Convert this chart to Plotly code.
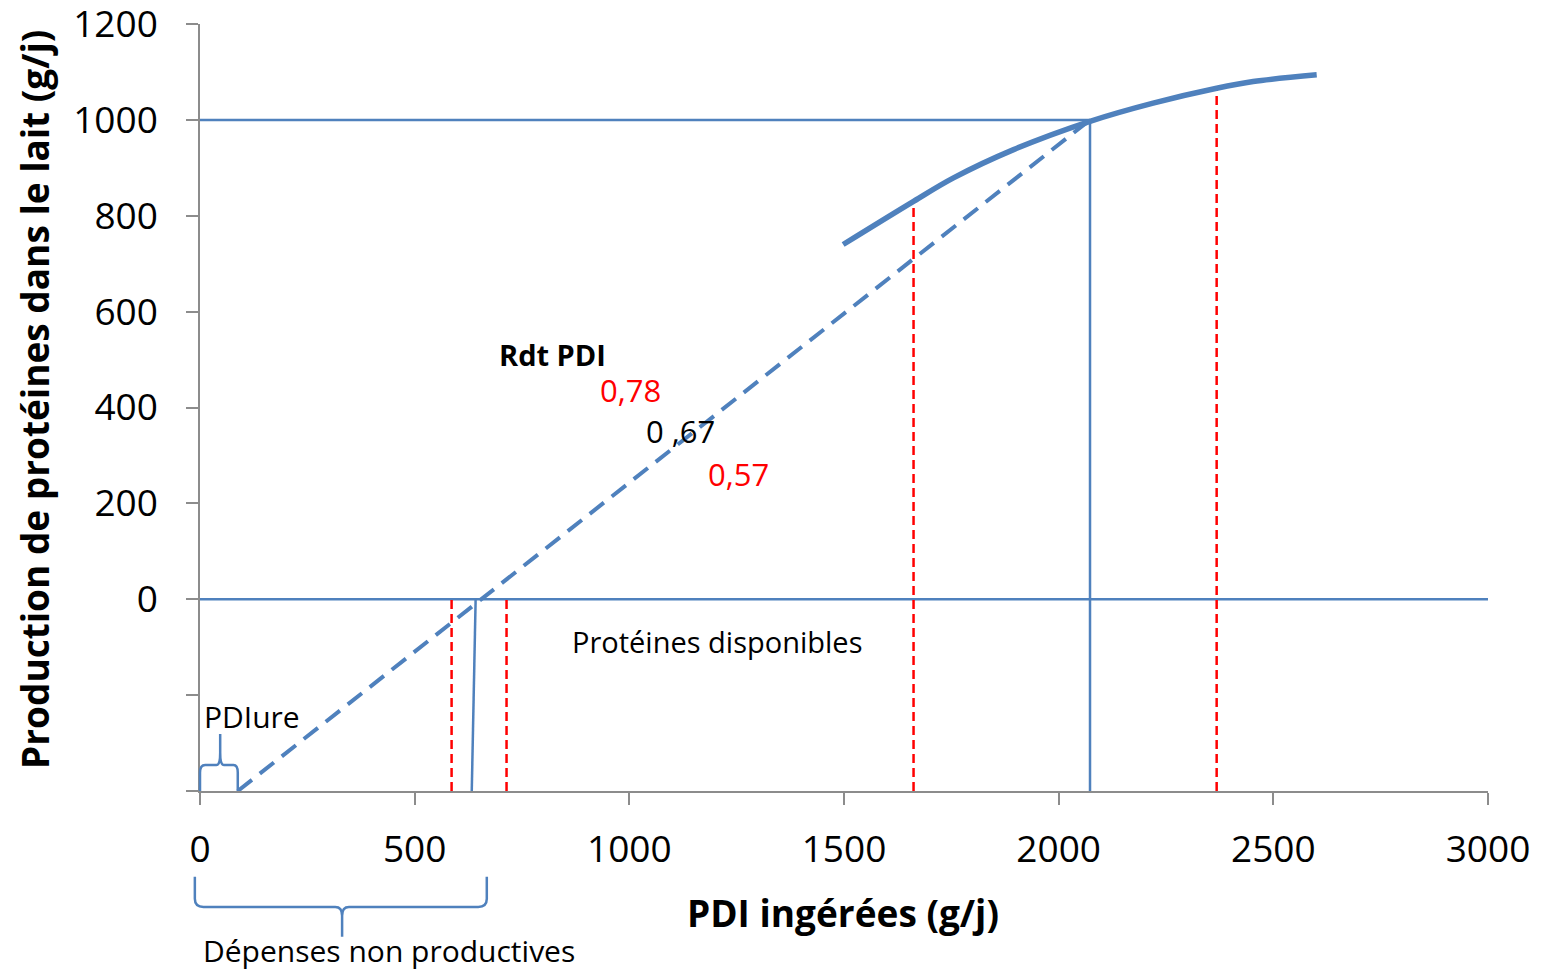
import plotly.graph_objects as go

# ---------------- data ----------------
X_RANGE = [0, 3000]
Y_RANGE = [-400, 1200]
x_tickvals = [0, 500, 1000, 1500, 2000, 2500, 3000]
y_tickvals = [-400, -200, 0, 200, 400, 600, 800, 1000, 1200]
y_ticktext = ["", "", "0", "200", "400", "600", "800", "1000", "1200"]

# response curve (thick)
curve_x = [1498, 1662, 1755, 1895, 2073, 2220, 2368, 2453, 2601]
curve_y = [740, 830, 879, 938, 997, 1035, 1066, 1080, 1094]

# linear response (dashed), from PDIure to the reference point
lin_x = [88, 2073]
lin_y = [-400, 1000]

# reference point
ref_x = 2073
ref_y = 1000

# vertical line at the maintenance need
need_x = [633, 642]
need_y = [-400, 0]

# red dashed verticals
red_x = [586, 714, 1662, 2368]
red_top = [0, 0, 830, 1066]

BLUE = "#4F81BD"
RED = "#FF0000"
FONT = "Open Sans"

fig = go.Figure()

# thin blue reference lines
fig.add_trace(go.Scatter(x=[0, ref_x], y=[ref_y, ref_y], mode="lines",
                         line=dict(color=BLUE, width=2.5), hoverinfo="skip"))
fig.add_trace(go.Scatter(x=[0, X_RANGE[1]], y=[0, 0], mode="lines",
                         line=dict(color=BLUE, width=2.5), hoverinfo="skip"))
fig.add_trace(go.Scatter(x=[ref_x, ref_x], y=[Y_RANGE[0], ref_y], mode="lines",
                         line=dict(color=BLUE, width=2.5), hoverinfo="skip"))
fig.add_trace(go.Scatter(x=need_x, y=need_y, mode="lines",
                         line=dict(color=BLUE, width=2.5), hoverinfo="skip"))

# red dashed verticals
for rx, rt in zip(red_x, red_top):
    fig.add_trace(go.Scatter(x=[rx, rx], y=[Y_RANGE[0], rt], mode="lines",
                             line=dict(color=RED, width=2.5, dash="9px,5px"),
                             hoverinfo="skip"))

# dashed linear response
fig.add_trace(go.Scatter(x=lin_x, y=lin_y, mode="lines",
                         line=dict(color=BLUE, width=4, dash="18px,10px"),
                         hoverinfo="skip"))

# thick curve
fig.add_trace(go.Scatter(x=curve_x, y=curve_y, mode="lines", line_shape="spline",
                         line=dict(color=BLUE, width=5.5), hoverinfo="skip"))


def to_paper(x, y):
    return ((x - X_RANGE[0]) / (X_RANGE[1] - X_RANGE[0]),
            (y - Y_RANGE[0]) / (Y_RANGE[1] - Y_RANGE[0]))


def path_from(points):
    s = ""
    for cmd, pts in points:
        s += cmd + " " + " ".join("%.5f,%.5f" % to_paper(px, py) for px, py in pts) + " "
    return s.strip()


# PDIure brace (above x axis, from 0 to 88)
brace1 = [("M", [(0, -400)]), ("L", [(0, -362)]), ("Q", [(0, -346), (12, -346)]),
          ("L", [(38, -346)]), ("Q", [(47, -346), (47, -320)]), ("L", [(47, -281)]),
          ("M", [(47, -320)]), ("Q", [(47, -346), (56, -346)]), ("L", [(78, -346)]),
          ("Q", [(88, -346), (88, -362)]), ("L", [(88, -400)])]
# Dépenses non productives brace (below x axis)
brace2 = [("M", [(-12, -579)]), ("L", [(-12, -625)]), ("Q", [(-12, -642), (8, -642)]),
          ("L", [(315, -642)]), ("Q", [(331, -642), (331, -660)]), ("L", [(331, -704)]),
          ("M", [(331, -660)]), ("Q", [(331, -642), (347, -642)]), ("L", [(648, -642)]),
          ("Q", [(668, -642), (668, -625)]), ("L", [(668, -579)])]

shapes = []
for b in (brace1, brace2):
    shapes.append(dict(type="path", xref="paper", yref="paper", path=path_from(b),
                       line=dict(color=BLUE, width=2.5)))

annotations = []


def add_text(x, y, text, color="black", size=30, bold=False):
    px, py = to_paper(x, y)
    annotations.append(dict(x=px, y=py, xref="paper", yref="paper",
                            text=("<b>%s</b>" % text) if bold else text,
                            showarrow=False, xanchor="center", yanchor="middle",
                            font=dict(family=FONT, size=size, color=color)))


add_text(822, 510, "Rdt PDI", bold=True, size=29)
add_text(1002, 437, "0,78", color=RED, size=31)
add_text(1120, 350, "0 ,67", size=31)
add_text(1255, 262, "0,57", color=RED, size=31)
add_text(1204, -88, "Protéines disponibles", size=29)
add_text(121, -244, "PDIure")
add_text(440, -733, "Dépenses non productives")

# axis titles
annotations.append(dict(x=0.4993, y=-0.158, xref="paper", yref="paper",
                        text="<b>PDI ingérées (g/j)</b>", showarrow=False,
                        xanchor="center", yanchor="middle",
                        font=dict(family=FONT, size=37, color="black")))
annotations.append(dict(x=-0.128, y=0.51, xref="paper", yref="paper",
                        text="<b>Production de protéines dans le lait (g/j)</b>",
                        showarrow=False, textangle=-90,
                        xanchor="center", yanchor="middle",
                        font=dict(family=FONT, size=37, color="black")))

fig.update_layout(
    width=1537, height=962,
    margin=dict(l=192, r=57, t=16, b=179, autoexpand=False),
    plot_bgcolor="white", paper_bgcolor="white",
    showlegend=False,
    shapes=shapes,
    annotations=annotations,
    xaxis=dict(range=X_RANGE, tickvals=x_tickvals, showgrid=False, zeroline=False,
               automargin=False,
               showline=True, linecolor="#8C8C8C", linewidth=1.5,
               ticks="outside", ticklen=12, tickwidth=1.5, tickcolor="#8C8C8C",
               ticklabelstandoff=13, ticklabeloverflow="allow",
               tickfont=dict(family=FONT, size=37, color="black")),
    yaxis=dict(range=Y_RANGE, tickvals=y_tickvals, ticktext=y_ticktext,
               showgrid=False, zeroline=False,
               automargin=False,
               showline=True, linecolor="#8C8C8C", linewidth=1.5,
               ticks="outside", ticklen=12, tickwidth=1.5, tickcolor="#8C8C8C",
               ticklabelstandoff=21, ticklabeloverflow="allow",
               tickfont=dict(family=FONT, size=37, color="black")),
)

fig.write_html("out.html")
